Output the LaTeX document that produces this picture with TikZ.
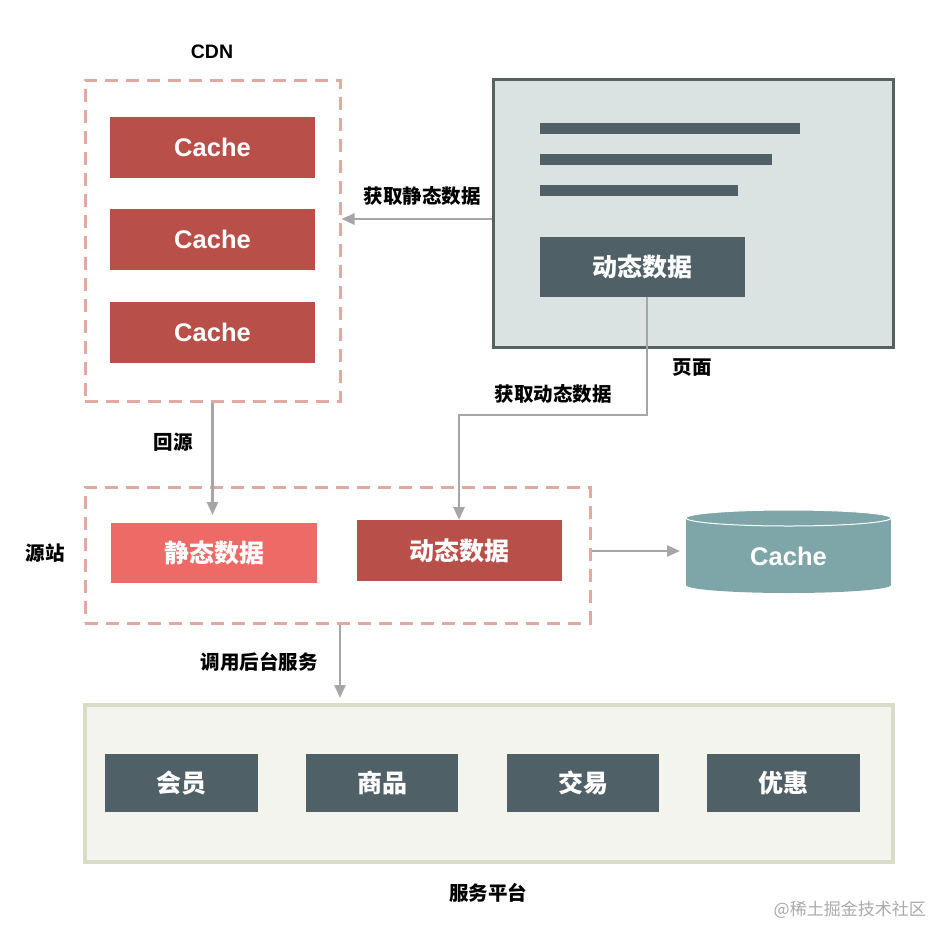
\documentclass[tikz,border=0pt]{standalone}
\usepackage{fontspec}
\setmainfont{Liberation Sans}
\newfontfamily\cjk{Noto Sans CJK SC}
\usetikzlibrary{arrows.meta}
\definecolor{cachered}{HTML}{B94F49}
\definecolor{lightred}{HTML}{EE6A66}
\definecolor{slate}{HTML}{4F6166}
\definecolor{pagefill}{HTML}{DAE2E2}
\definecolor{pageline}{HTML}{56625F}
\definecolor{dashpink}{HTML}{E2A9A2}
\definecolor{cylfill}{HTML}{7EA5A8}
\definecolor{platfill}{HTML}{F3F4EE}
\definecolor{platline}{HTML}{D9DCC6}
\definecolor{arrgray}{HTML}{A6A6A6}
\definecolor{wmgray}{HTML}{AAAAAA}
\tikzset{
  solidbox/.style={rectangle, inner sep=0pt, text=white},
  latinbig/.style={font=\bfseries\fontsize{25.5}{25.5}\selectfont},
  cjkbig/.style={font=\cjk\bfseries\fontsize{25}{25}\selectfont},
  lab/.style={font=\cjk\bfseries\fontsize{19.5}{19.5}\selectfont, text=black, inner sep=0pt},
  dashbox/.style={rectangle, draw=dashpink, line width=3pt, dash pattern=on 13pt off 8pt, inner sep=0pt},
  arr/.style={draw=arrgray, line width=2.5pt, -{Triangle[length=13pt,width=11pt]}, arrgray},
}
\begin{document}
\begin{tikzpicture}[x=1pt,y=-1pt]
\useasboundingbox (0,0) rectangle (951,946);
\fill[white] (0,0) rectangle (951,946);

% CDN
\node[font=\bfseries\fontsize{19.5}{19.5}\selectfont, inner sep=0pt] (cdnlab) at (212,52) {CDN};
\node[dashbox, minimum width=255pt, minimum height=321pt] (cdn) at (212.5,240.5) {};
\node[solidbox, fill=cachered, latinbig, minimum width=205pt, minimum height=61pt] (c1) at (212.5,147.5) {Cache};
\node[solidbox, fill=cachered, latinbig, minimum width=205pt, minimum height=61pt] (c2) at (212.5,239.5) {Cache};
\node[solidbox, fill=cachered, latinbig, minimum width=205pt, minimum height=61pt] (c3) at (212.5,332) {Cache};

% page
\node[rectangle, fill=pagefill, draw=pageline, line width=3pt, minimum width=400pt, minimum height=268pt, inner sep=0pt] (page) at (693,213) {};
\node[rectangle, fill=slate, inner sep=0pt, minimum width=260pt, minimum height=11pt] (l1) at (670,128.5) {};
\node[rectangle, fill=slate, inner sep=0pt, minimum width=232pt, minimum height=11pt] (l2) at (656,159.5) {};
\node[rectangle, fill=slate, inner sep=0pt, minimum width=198pt, minimum height=11pt] (l3) at (639,190.5) {};
\node[solidbox, fill=slate, cjkbig, minimum width=205pt, minimum height=60pt] (pdyn) at (642.5,267) {动态数据};
\node[lab] (pagelab) at (692,368) {页面};

% arrows top
\draw[arr] (page.west |- 0,219) -- (cdn.east |- 0,219);
\node[lab] (lstatic) at (422,196) {获取静态数据};
\draw[arr] (pdyn.south -| 647,0) -- (647,415) -| (459,520);
\node[lab] (ldyn) at (553,394) {获取动态数据};

% origin
\node[dashbox, minimum width=505pt, minimum height=136pt] (origin) at (337.5,555) {};
\node[lab] (originlab) at (45,553) {源站};
\node[solidbox, fill=lightred, cjkbig, minimum width=206pt, minimum height=60pt] (sstatic) at (214,553) {静态数据};
\node[solidbox, fill=cachered, cjkbig, minimum width=205pt, minimum height=61pt] (sdyn) at (459.5,550.5) {动态数据};
\draw[arr] (cdn.south) -- (212.5,515);
\node[lab] (lback) at (173,442) {回源};

% cylinder
\fill[cylfill] (686,518) rectangle (891,585);
\fill[cylfill] (788.5,585) ellipse [x radius=102.5, y radius=8];
\filldraw[fill=cylfill, draw=white, line width=1pt] (788.5,518) ellipse [x radius=102.5, y radius=8];
\node[rectangle, minimum width=205pt, minimum height=83pt, inner sep=0pt, text=white, latinbig] (db) at (788.5,556) {Cache};
\draw[arr] (origin.east |- 0,551) -- (680,551);

% platform
\node[rectangle, fill=platfill, draw=platline, line width=4pt, minimum width=808pt, minimum height=157pt, inner sep=0pt] (plat) at (489,783.5) {};
\draw[arr] (origin.south -| 340,0) -- (340,698);
\node[lab] (lcall) at (259,662) {调用后台服务};
\node[solidbox, fill=slate, cjkbig, minimum width=153pt, minimum height=58pt] (s1) at (181.5,783) {会员};
\node[solidbox, fill=slate, cjkbig, minimum width=152pt, minimum height=58pt] (s2) at (382,783) {商品};
\node[solidbox, fill=slate, cjkbig, minimum width=152pt, minimum height=58pt] (s3) at (583,783) {交易};
\node[solidbox, fill=slate, cjkbig, minimum width=153pt, minimum height=58pt] (s4) at (783.5,783) {优惠};
\node[lab] (platlab) at (488,893) {服务平台};

% watermark
\node[font=\cjk\fontsize{17}{17}\selectfont, text=wmgray, inner sep=0pt, anchor=east] (wm) at (926,910) {@稀土掘金技术社区};
\end{tikzpicture}
\end{document}
